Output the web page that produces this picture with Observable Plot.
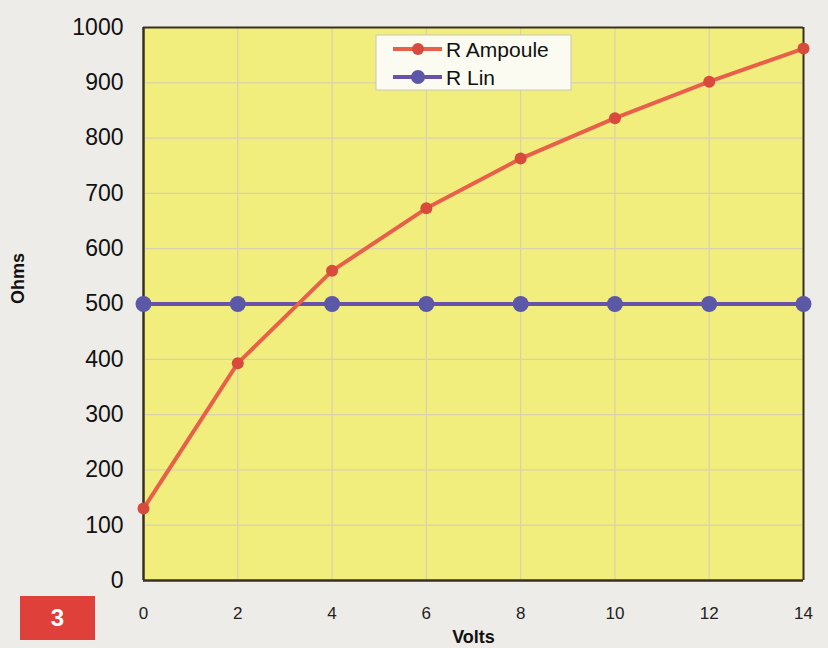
<!DOCTYPE html>
<html><head><meta charset="utf-8">
<script src="https://cdn.jsdelivr.net/npm/d3@7"></script>
<script src="https://cdn.jsdelivr.net/npm/@observablehq/plot@0.6"></script>
<style>
body{margin:0;background:#edece8;}
#wrap{position:relative;width:828px;height:648px;}
#badge{position:absolute;left:20px;top:596px;width:75px;height:44px;background:#e0403a;color:#fff;font:bold 24px "Liberation Sans",Arial,sans-serif;display:flex;align-items:center;justify-content:center;}
</style></head>
<body><div id="wrap"><div id="badge">3</div></div>
<script>
const volts = [0, 2, 4, 6, 8, 10, 12, 14];
const rAmpoule = [130, 393, 560, 673, 763, 836, 902, 962];
const rLin = [500, 500, 500, 500, 500, 500, 500, 500];
const seriesNames = ["R Ampoule", "R Lin"];
const xTicks = [0, 2, 4, 6, 8, 10, 12, 14];
const yTicks = [0, 100, 200, 300, 400, 500, 600, 700, 800, 900, 1000];

const dataA = volts.map((v, i) => ({v, r: rAmpoule[i]}));
const dataB = volts.map((v, i) => ({v, r: rLin[i]}));
const colA = "#e8604a", colAdot = "#d84a3c";
const colB = "#6a52aa", colBdot = "#5c58a8";

const plot = Plot.plot({
  width: 828, height: 648,
  marginLeft: 143, marginRight: 25, marginTop: 27, marginBottom: 68,
  style: {background: "transparent", fontFamily: "'Liberation Sans', Arial, sans-serif", color: "#111"},
  x: {domain: [0, 14], ticks: xTicks, label: null},
  y: {domain: [0, 1000], ticks: yTicks, label: null},
  marks: [
    Plot.frame({fill: "#f2ee7e", stroke: "none"}),
    Plot.gridX(xTicks, {stroke: "#d8d0b0", strokeOpacity: 1, strokeWidth: 1.2}),
    Plot.gridY(yTicks, {stroke: "#d8d0b0", strokeOpacity: 1, strokeWidth: 1.2}),
    Plot.axisX(xTicks, {tickSize: 0, tickPadding: 26, fontSize: 17, fill: "#222", tickFormat: d => String(d)}),
    Plot.axisY(yTicks, {tickSize: 0, tickPadding: 20, fontSize: 23, fill: "#111", tickFormat: d => String(d)}),
    Plot.ruleX([0], {stroke: "#3a3020", strokeWidth: 2.5}),
    Plot.ruleY([0], {stroke: "#3a3020", strokeWidth: 2.5}),
    Plot.ruleX([14], {stroke: "#3a3020", strokeWidth: 2}),
    Plot.ruleY([1000], {stroke: "#3a3020", strokeWidth: 2}),
    Plot.line(dataB, {x: "v", y: "r", stroke: colB, strokeWidth: 4}),
    Plot.line(dataA, {x: "v", y: "r", stroke: colA, strokeWidth: 4}),
    Plot.dot(dataB, {x: "v", y: "r", r: 8, fill: colBdot, stroke: "none"}),
    Plot.dot(dataA, {x: "v", y: "r", r: 6, fill: colAdot, stroke: "none"}),
    Plot.text(["Volts"], {frameAnchor: "bottom", dy: 62, fontSize: 18, fontWeight: "bold", fill: "#111"}),
    Plot.text(["Ohms"], {frameAnchor: "left", dx: -125, rotate: -90, fontSize: 18, fontWeight: "bold", fill: "#111"})
  ]
});
document.getElementById("wrap").prepend(plot);

// legend
const svg = d3.select(plot);
const lg = svg.append("g").attr("transform", "translate(376,35)");
lg.append("rect").attr("width", 195).attr("height", 55).attr("fill", "#fbfbf2").attr("stroke", "#c8c8b8");
[[colA, colAdot, 6], [colB, colBdot, 7]].forEach(([c, cd, rr], i) => {
  const y = 14 + i * 28;
  lg.append("line").attr("x1", 17).attr("x2", 66).attr("y1", y).attr("y2", y).attr("stroke", c).attr("stroke-width", 4);
  lg.append("circle").attr("cx", 42).attr("cy", y).attr("r", rr).attr("fill", cd);
  lg.append("text").attr("x", 70).attr("y", y).attr("dy", "0.36em").attr("font-size", 21)
    .attr("text-anchor", "start")
    .attr("font-family", "'Liberation Sans', Arial, sans-serif").attr("fill", "#111").text(seriesNames[i]);
});
</script></body></html>
